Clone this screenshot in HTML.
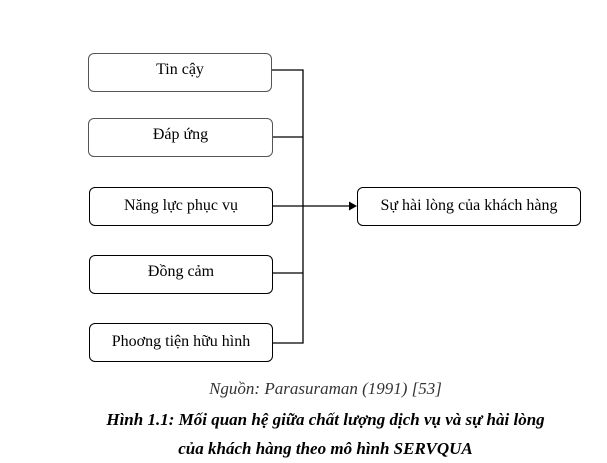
<!DOCTYPE html>
<html><head><meta charset="utf-8"><style>
body{margin:0;background:#fff;width:607px;height:463px;overflow:hidden;position:relative;font-family:"Liberation Serif",serif}
.b{position:absolute;border:1px solid #000;border-radius:6px;box-sizing:border-box;text-align:center;font-size:16px;line-height:36px;color:#000}
.t{position:absolute;left:0;width:607px;text-align:center;font-style:italic;font-size:17px}
</style></head><body>
<div class="b" style="left:88px;top:53px;width:184px;height:39px;line-height:32px;border-color:#555">Tin cậy</div>
<div class="b" style="left:88px;top:118px;width:185px;height:39px;line-height:32px;border-color:#555">Đáp ứng</div>
<div class="b" style="left:89px;top:187px;width:184px;height:39px">Năng lực phục vụ</div>
<div class="b" style="left:89px;top:255px;width:184px;height:39px;line-height:32px">Đồng cảm</div>
<div class="b" style="left:89px;top:323px;width:184px;height:39px">Phoơng tiện hữu hình</div>
<div class="b" style="left:357px;top:187px;width:224px;height:39px">Sự hài lòng của khách hàng</div>
<svg width="607" height="463" style="position:absolute;left:0;top:0">
<g stroke="#000" stroke-width="1.3" fill="none">
<path d="M272 70H303V343H273M273 137H303M273 273H303M273 206H350"/>
</g>
<path d="M357 206L349 201.5V210.5Z" fill="#000"/>
</svg>
<div class="t" style="top:379px;left:22px;color:#333">Nguồn: Parasuraman (1991) [53]</div>
<div class="t" style="top:410px;left:22px;font-weight:bold">Hình 1.1: Mối quan hệ giữa chất lượng dịch vụ và sự hài lòng</div>
<div class="t" style="top:439px;left:22px;font-weight:bold">của khách hàng theo mô hình SERVQUA</div>
</body></html>
